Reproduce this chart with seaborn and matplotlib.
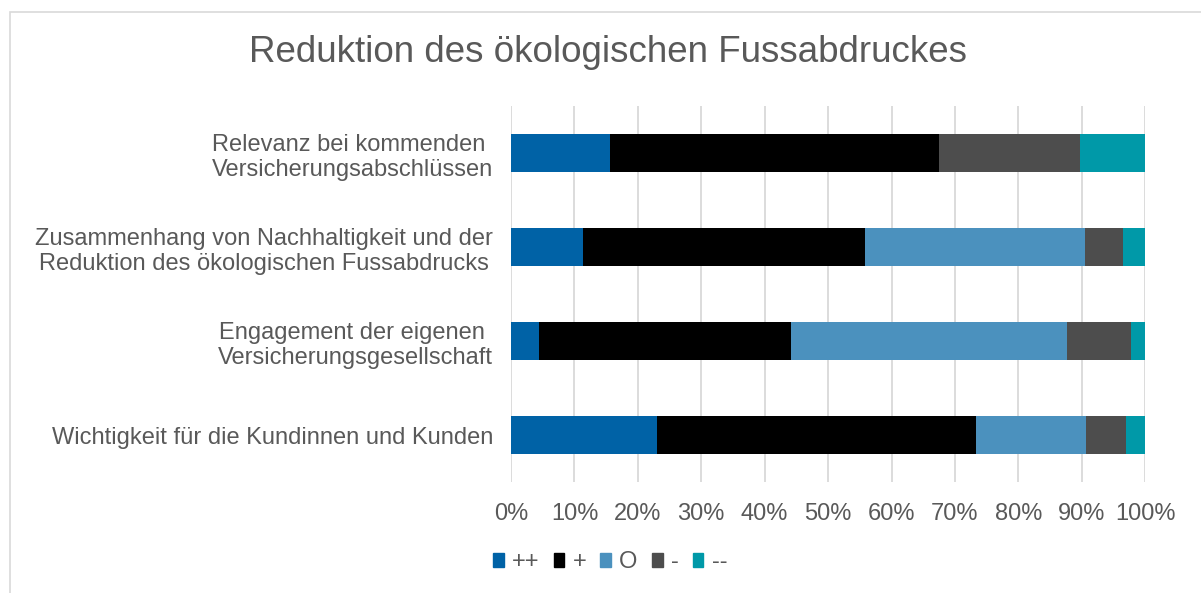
#!/usr/bin/env python3

import matplotlib.pyplot as plt
import matplotlib.patches as mpatches
import pandas as pd
import seaborn as sns

sns.set_style("white")
plt.rcParams['font.family'] = ['Liberation Sans', 'DejaVu Sans']

categories = [
    "Relevanz bei kommenden \nVersicherungsabschlüssen",
    "Zusammenhang von Nachhaltigkeit und der\nReduktion des ökologischen Fussabdrucks",
    "Engagement der eigenen \nVersicherungsgesellschaft",
    "Wichtigkeit für die Kundinnen und Kunden",
]
series = ['++', '+', 'O', '-', '--']
pp = [15.6, 11.4, 4.4, 23.0]
p = [51.9, 44.4, 39.8, 50.3]
o = [0.0, 34.7, 43.4, 17.4]
m = [22.3, 6.0, 10.1, 6.3]
mm = [10.2, 3.5, 2.3, 3.0]
colors = ['#0062A6', '#000000', '#4B91BE', '#4D4D4D', '#0099A8']
ticks = [0, 10, 20, 30, 40, 50, 60, 70, 80, 90, 100]

df = pd.DataFrame({'category': categories, '++': pp, '+': p, 'O': o, '-': m, '--': mm})
# stacked: draw cumulative sums from the outermost segment inwards
cum = df[series].cumsum(axis=1)
cum = cum.div(cum['--'], axis=0) * 100
cum['category'] = categories

fig = plt.figure(figsize=(12.01, 5.93), dpi=100)
ax = fig.add_axes([0.4255, 0.187, 0.528, 0.634])

for s, c in reversed(list(zip(series, colors))):
    sns.barplot(ax=ax, data=cum, x=s, y='category', order=categories,
                color=c, width=0.4, orient='h', saturation=1, linewidth=0)

ax.set_xlim(0, 100)
ax.set_xticks(ticks)
ax.set_xticklabels([f"{t}%" for t in ticks])
ax.set_xlabel(None)
ax.set_ylabel(None)
ax.grid(axis='x', color='#D9D9D9', linewidth=1.3)
ax.grid(axis='y', visible=False)
ax.set_axisbelow(True)
for sp in ax.spines.values():
    sp.set_visible(False)
ax.tick_params(axis='x', length=0, pad=15, labelsize=17, labelcolor='#595959')
ax.tick_params(axis='y', length=0, pad=13, labelsize=17, labelcolor='#595959')
for lab in ax.get_yticklabels():
    lab.set_multialignment('center')
    lab.set_linespacing(1.2)

fig.text(0.506, 0.911, "Reduktion des ökologischen Fussabdruckes",
         ha='center', va='center', fontsize=26.5, color='#595959')

handles = [mpatches.Patch(color=c, label=s) for s, c in zip(series, colors)]
fig.legend(handles=handles, loc='center', bbox_to_anchor=(0.508, 0.052), ncol=5,
           frameon=False, fontsize=17, handlelength=0.45, handleheight=0.55,
           handletextpad=0.35, columnspacing=0.6, labelcolor='#595959')

fig.patches.append(mpatches.Rectangle((10 / 1201, -0.05), 1.1, 1 - 12 / 593 + 0.05,
                                      transform=fig.transFigure, fill=False,
                                      edgecolor='#D9D9D9', linewidth=1.2))

plt.savefig("out.png", dpi=100)
